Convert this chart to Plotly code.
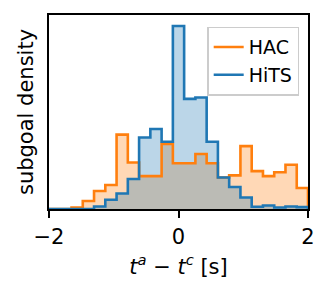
import numpy as np
import plotly.graph_objects as go

# ---- data ----
bin_range = (-2.0, 2.0)
n_bins = 23
series_names = ["HAC", "HiTS"]
hac_density = [0.0, 0.0, 0.01, 0.056, 0.126, 0.168, 0.52, 0.325, 0.23, 0.23, 0.455,
               0.32, 0.32, 0.385, 0.32, 0.22, 0.235, 0.44, 0.265, 0.23, 0.257, 0.31, 0.147]
hits_density = [0.0, 0.0, 0.0, 0.0, 0.017, 0.065, 0.108, 0.21, 0.50, 0.56, 0.47,
                1.28, 0.77, 0.78, 0.47, 0.22, 0.154, 0.08, 0.016, 0.024, 0.01, 0.017, 0.013]
x_ticks = [-2, 0, 2]
x_title = "<i>t</i><sup><i>a</i></sup> − <i>t</i><sup><i>c</i></sup> [s]"
y_title = "subgoal density"

# ---- styling ----
colors = {"HAC": "#ff7f0e", "HiTS": "#1f77b4"}
fills = {"HAC": "rgba(255,127,14,0.3)", "HiTS": "rgba(31,119,180,0.3)"}
FONT = "DejaVu Sans"

edges = np.linspace(bin_range[0], bin_range[1], n_bins + 1)
centers = (edges[:-1] + edges[1:]) / 2
width = edges[1] - edges[0]

fig = go.Figure()
data = {"HAC": hac_density, "HiTS": hits_density}

for name in series_names:
    fig.add_trace(go.Bar(x=centers, y=data[name], width=width,
                         marker=dict(color=fills[name], line=dict(width=0)),
                         showlegend=False, hoverinfo="skip"))

for name in series_names:
    vals = list(data[name])
    xs = [edges[0]] + list(edges) + [edges[-1]]
    ys = [0] + vals + [vals[-1], 0]
    fig.add_trace(go.Scatter(x=xs, y=ys, mode="lines", name=name,
                             line=dict(color=colors[name], width=2.6, shape="hv"),
                             hoverinfo="skip"))

ymax = max(hits_density) * 194 / 183

fig.update_layout(
    width=332, height=298,
    margin=dict(l=49, r=24, t=15, b=89),
    paper_bgcolor="white", plot_bgcolor="white",
    barmode="overlay", bargap=0,
    font=dict(family=FONT, size=21, color="black"),
    showlegend=True,
    legend=dict(x=0.966, y=0.94, xanchor="right", yanchor="top",
                bgcolor="rgba(255,255,255,0.8)", bordercolor="#cccccc", borderwidth=1.5,
                font=dict(family=FONT, size=19), tracegroupgap=0, itemwidth=30),
    xaxis=dict(range=list(bin_range), tickvals=x_ticks, ticks="outside", ticklen=7,
               tickwidth=1.7, tickcolor="black", showline=True, linecolor="black",
               linewidth=1.7, mirror=True, showgrid=False, zeroline=False,
               automargin=False, ticklabelstandoff=1,
               title=dict(text=x_title, standoff=11, font=dict(size=21)),
               tickfont=dict(size=21)),
    yaxis=dict(range=[0, ymax], showticklabels=False, ticks="", showline=True,
               linecolor="black", linewidth=1.7, mirror=True, showgrid=False,
               zeroline=False, automargin=False,
               title=dict(text=y_title, standoff=8, font=dict(size=21))),
)

fig.write_html("out.html", config={"displayModeBar": False},
               post_script="document.body.style.margin='0';")
